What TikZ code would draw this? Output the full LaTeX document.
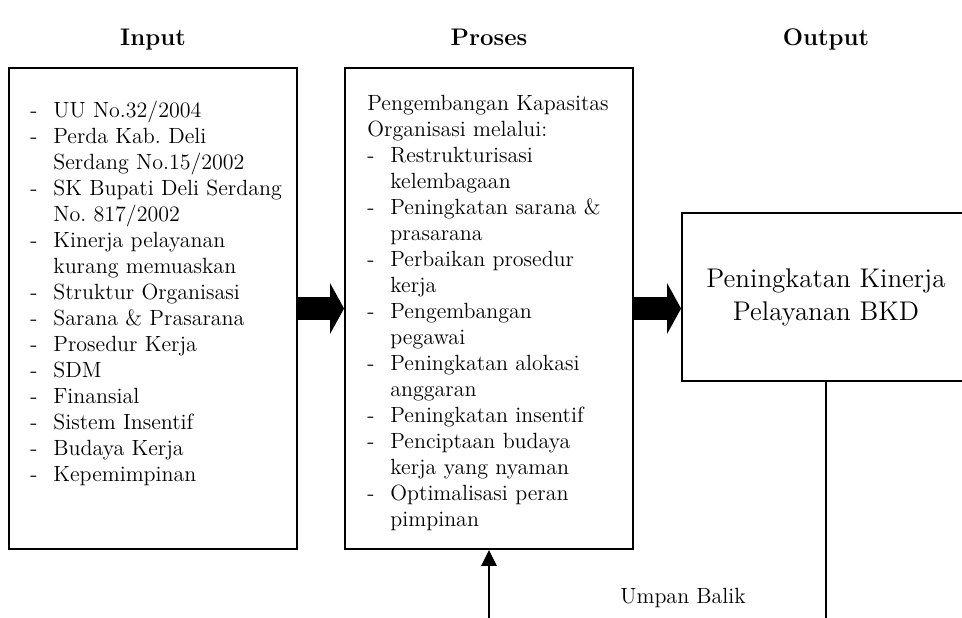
\documentclass[tikz,border=0pt]{standalone}
\usetikzlibrary{arrows.meta}
\newcommand{\itm}[1]{\makebox[11.5pt][l]{-}#1}
\newcommand{\cont}[1]{\hspace*{11.5pt}#1}

\begin{document}
\begin{tikzpicture}[x=0.5pt,y=-0.5pt,
  box/.style={draw,line width=0.9pt,minimum width=144pt,minimum height=240.5pt,inner sep=0pt},
  list/.style={align=left,text width=140pt,font=\fontsize{11}{13}\selectfont,inner sep=0pt},
  title/.style={font=\fontsize{12}{14}\selectfont\bfseries},
  bigarrow/.style={line width=11.5pt,-{Triangle[width=25pt,length=7pt]}},
  feedback/.style={line width=1.3pt,-{Triangle[width=7.5pt,length=8pt]}}]
\useasboundingbox (0,0) rectangle (962,617);
% Coordinates
\coordinate (fbin)  at (489,640);
\coordinate (fbout) at (826,640);
% Boxes
\node[box] (input)  at (153,308.5) {};
\node[box] (proses) at (489,308.5) {};
\node[box,minimum height=84pt] (output) at (826,297) {};
% Titles
\node[title,anchor=base] (tinput)  at (153,45) {Input};
\node[title,anchor=base] (tproses) at (489,45) {Proses};
\node[title,anchor=base] (toutput) at (826,45) {Output};
% Box texts
\node[list,anchor=base west] (linput) at (30,117) {%
  \itm{UU No.32/2004}\\
  \itm{Perda Kab.\ Deli}\\
  \cont{Serdang No.15/2002}\\
  \itm{SK Bupati Deli Serdang}\\
  \cont{No.\ 817/2002}\\
  \itm{Kinerja pelayanan}\\
  \cont{kurang memuaskan}\\
  \itm{Struktur Organisasi}\\
  \itm{Sarana \& Prasarana}\\
  \itm{Prosedur Kerja}\\
  \itm{SDM}\\
  \itm{Finansial}\\
  \itm{Sistem Insentif}\\
  \itm{Budaya Kerja}\\
  \itm{Kepemimpinan}};
\node[list,anchor=base west] (lproses) at (367,110) {%
  Pengembangan Kapasitas\\
  Organisasi melalui:\\
  \itm{Restrukturisasi}\\
  \cont{kelembagaan}\\
  \itm{Peningkatan sarana \&}\\
  \cont{prasarana}\\
  \itm{Perbaikan prosedur}\\
  \cont{kerja}\\
  \itm{Pengembangan}\\
  \cont{pegawai}\\
  \itm{Peningkatan alokasi}\\
  \cont{anggaran}\\
  \itm{Peningkatan insentif}\\
  \itm{Penciptaan budaya}\\
  \cont{kerja yang nyaman}\\
  \itm{Optimalisasi peran}\\
  \cont{pimpinan}};
\node[align=center,font=\fontsize{13.5}{16.5}\selectfont] (loutput) at (output) {Peningkatan Kinerja\\Pelayanan BKD};
\node[anchor=base west,inner sep=0pt,font=\fontsize{11}{13}\selectfont] (umpan) at (620,603) {Umpan Balik};
% Arrows
\draw[bigarrow] (input) -- (proses);
\draw[bigarrow] (proses.east) -- (proses.east -| output.west);
\draw[feedback] (fbin) -- (proses.south);
\draw[line width=1.3pt] (output.south) -- (fbout);
\end{tikzpicture}
\end{document}
